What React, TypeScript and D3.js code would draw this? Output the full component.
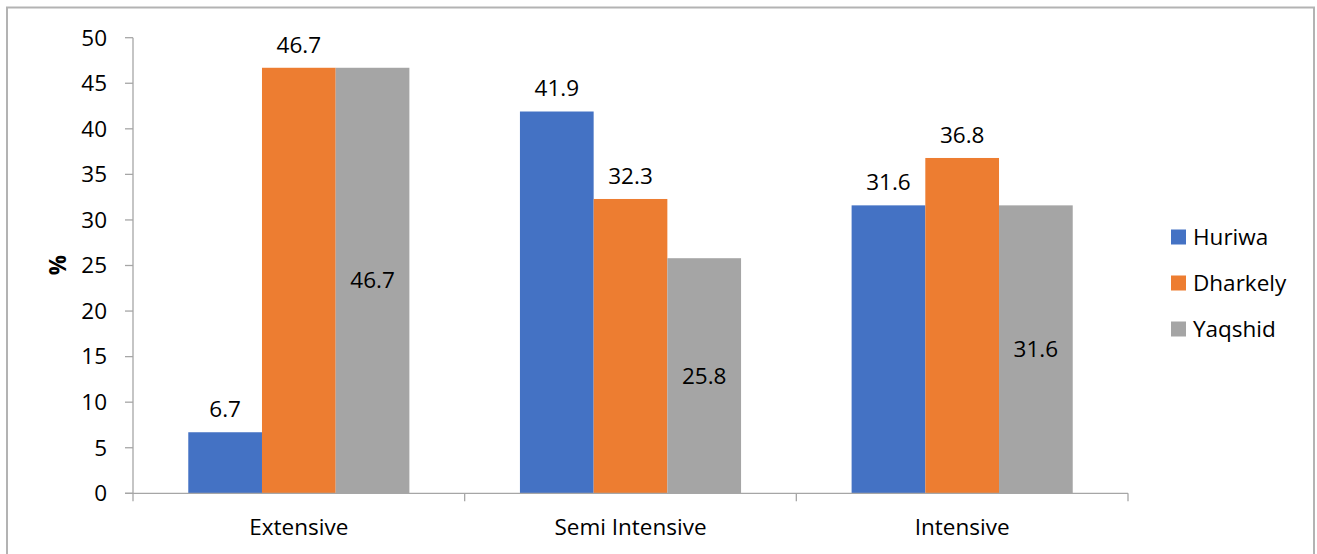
import React from "react";
import * as d3 from "d3";

const categories = ["Extensive", "Semi Intensive", "Intensive"];
const seriesNames = ["Huriwa", "Dharkely", "Yaqshid"];
const huriwa = [6.7, 41.9, 31.6];
const dharkely = [46.7, 32.3, 36.8];
const yaqshid = [46.7, 25.8, 31.6];
const yTicks = [0, 5, 10, 15, 20, 25, 30, 35, 40, 45, 50];
const colors = ["#4472C4", "#ED7D31", "#A5A5A5"];

const W = 1317;
const H = 554;
const FONT = "'Open Sans', sans-serif";
const FS = 22.5;

export default function App() {
  const seriesValues = [huriwa, dharkely, yaqshid];
  const left = 133;
  const right = 1128;
  const top = 37.7;
  const bottom = 493.3;
  const x0 = d3.scaleBand<string>().domain(categories).range([left, right]).paddingInner(0).paddingOuter(0);
  const step = x0.bandwidth();
  const barW = step / 4.5;
  const x1 = d3
    .scaleBand<string>()
    .domain(seriesNames)
    .range([0, barW * 3]);
  const y = d3.scaleLinear().domain([0, 50]).range([bottom, top]);

  return (
    <svg
      width={W}
      height={H}
      style={{ position: "absolute", left: 0, top: 0, background: "#fff" }}
      fontFamily={FONT}
    >
      <rect x={0} y={0} width={W} height={H} fill="#fff" />
      {/* outer border */}
      <path d={`M7,${H} V7.5 H1314 V${H}`} fill="none" stroke="#b3b3b3" strokeWidth={2} />

      {/* bars */}
      {categories.map((c, ci) => {
        const gx = (x0(c) as number) + (step - barW * 3) / 2;
        return seriesNames.map((s, si) => {
          const v = seriesValues[si][ci];
          const bx = gx + (x1(s) as number);
          return (
            <rect key={c + s} x={bx} y={y(v)} width={barW} height={y(0) - y(v)} fill={colors[si]} />
          );
        });
      })}

      {/* axes */}
      <line x1={left} x2={left} y1={top} y2={bottom + 8} stroke="#a6a6a6" strokeWidth={1.3} />
      <line x1={left - 8} x2={right} y1={bottom} y2={bottom} stroke="#a6a6a6" strokeWidth={1.3} />
      {yTicks.map((t) => (
        <g key={t}>
          <line x1={left - 8} x2={left} y1={y(t)} y2={y(t)} stroke="#a6a6a6" strokeWidth={1.3} />
          <text x={107} y={y(t)} dy="0.35em" textAnchor="end" fontSize={FS} fill="#000">
            {t}
          </text>
        </g>
      ))}
      {categories.map((c, i) => (
        <g key={c}>
          <line
            x1={(x0(c) as number) + step}
            x2={(x0(c) as number) + step}
            y1={bottom}
            y2={bottom + 8}
            stroke="#a6a6a6"
            strokeWidth={1.3}
          />
          <text x={(x0(c) as number) + step / 2} y={527} dy="0.35em" textAnchor="middle" fontSize={FS} fill="#000">
            {c}
          </text>
        </g>
      ))}

      {/* data labels */}
      {categories.map((c, ci) => {
        const gx = (x0(c) as number) + (step - barW * 3) / 2;
        return seriesNames.map((s, si) => {
          const v = seriesValues[si][ci];
          const cx = gx + (x1(s) as number) + barW / 2;
          const ly = si === 2 ? (y(v) + y(0)) / 2 : y(v) - 23;
          return (
            <text key={c + s + "l"} x={cx} y={ly} dy="0.35em" textAnchor="middle" fontSize={FS} fill="#000">
              {v.toFixed(1)}
            </text>
          );
        });
      })}

      {/* y axis title */}
      <text
        transform={`translate(58,265) rotate(-90)`}
        dy="0.35em"
        textAnchor="middle"
        fontSize={FS}
        fontWeight="bold"
        fill="#000"
      >
        %
      </text>

      {/* legend */}
      {seriesNames.map((s, i) => (
        <g key={s} transform={`translate(1171,${237 + i * 46})`}>
          <rect x={0} y={-7.5} width={15} height={15} fill={colors[i]} />
          <text x={22} y={0} dy="0.35em" fontSize={FS} fill="#000">
            {s}
          </text>
        </g>
      ))}
    </svg>
  );
}
